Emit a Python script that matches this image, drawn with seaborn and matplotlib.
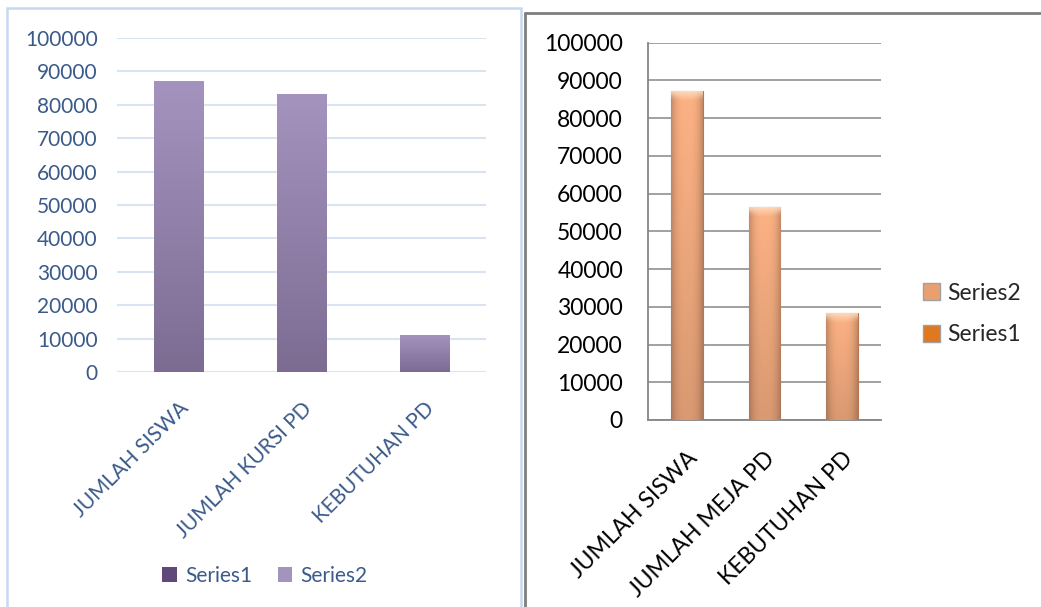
import numpy as np
import pandas as pd
import matplotlib
matplotlib.use("Agg")
import matplotlib.pyplot as plt
import seaborn as sns
from matplotlib.patches import Patch, Rectangle
from matplotlib.lines import Line2D
from matplotlib.colors import LinearSegmentedColormap

# data
left_categories = ["JUMLAH SISWA", "JUMLAH KURSI PD", "KEBUTUHAN PD"]
left_values = [87100, 83200, 11100]
right_categories = ["JUMLAH SISWA", "JUMLAH MEJA PD", "KEBUTUHAN PD"]
right_values = [87200, 56500, 28400]
y_ticks = [0, 10000, 20000, 30000, 40000, 50000, 60000, 70000, 80000, 90000, 100000]
legend_labels = ["Series1", "Series2"]

left_df = pd.DataFrame({"kategori": left_categories, "nilai": left_values})
right_df = pd.DataFrame({"kategori": right_categories, "nilai": right_values})

sns.set_style("white")
plt.rcParams["font.family"] = ["Lato", "DejaVu Sans"]

W, H = 1041, 607
fig = plt.figure(figsize=(W / 100, H / 100), dpi=100)

def fig_rect(x0, y0, x1, y1):
    return [x0 / W, 1 - y1 / H, (x1 - x0) / W, (y1 - y0) / H]

# panel frames
fig.patches.append(Rectangle((7 / W, -0.01), (521 - 7) / W, 1 - 8 / H + 0.01,
                             transform=fig.transFigure, fill=False,
                             edgecolor="#c6d9f1", lw=1.8))
fig.lines.append(Line2D([525 / W, 525 / W], [0, 1 - 13 / H], transform=fig.transFigure,
                        color="#7f7f7f", lw=2))
fig.lines.append(Line2D([525 / W, 1], [1 - 13 / H, 1 - 13 / H], transform=fig.transFigure,
                        color="#7f7f7f", lw=2))

blue_txt = "#3a5a8a"

# ---- left chart ----
ax1 = fig.add_axes(fig_rect(117, 38, 486, 372))
sns.barplot(data=left_df, x="kategori", y="nilai", color="#9c8cb6", width=0.4,
            ax=ax1, zorder=3)
ax1.set_ylim(0, 100000)
ax1.set_xlim(-0.5, 2.5)
ax1.set_yticks(y_ticks)
ax1.set_yticklabels([str(v) for v in y_ticks])
ax1.grid(axis="y", color="#d9e4f2", lw=1.5, zorder=0)
ax1.set_axisbelow(True)
for s in ax1.spines.values():
    s.set_visible(False)
ax1.tick_params(axis="both", length=0, colors=blue_txt, labelsize=15)
ax1.tick_params(axis="y", pad=14)
ax1.tick_params(axis="x", pad=19)
for lab in ax1.get_xticklabels():
    lab.set_rotation(45)
    lab.set_ha("right")
    lab.set_va("top")
    lab.set_rotation_mode("anchor")
ax1.set_xlabel("")
ax1.set_ylabel("")

purple = LinearSegmentedColormap.from_list("pur", ["#7d6c92", "#a493be"])
for p in list(ax1.patches):
    x0, y0, w, h = p.get_x(), p.get_y(), p.get_width(), p.get_height()
    grad = np.linspace(1, 0, 100).reshape(-1, 1)
    im = ax1.imshow(grad, extent=[x0, x0 + w, y0, y0 + h], aspect="auto",
                    cmap=purple, vmin=0, vmax=1, zorder=4)
    im.set_clip_path(p)
ax1.set_ylim(0, 100000)
ax1.set_xlim(-0.5, 2.5)

fig.legend(handles=[Patch(facecolor="#5f497a", edgecolor="none"),
                    Patch(facecolor="#a294bc", edgecolor="none")],
           labels=legend_labels, loc="center", bbox_to_anchor=(265 / W, 1 - 576 / H),
           ncol=2, frameon=False, fontsize=15, handlelength=0.7, handleheight=0.7,
           handletextpad=0.4, columnspacing=1.2, labelcolor=blue_txt)

# ---- right chart ----
ax2 = fig.add_axes(fig_rect(648, 42.7, 881, 420))
sns.barplot(data=right_df, x="kategori", y="nilai", color="#f4a673", width=0.41,
            ax=ax2, zorder=3)
ax2.set_ylim(0, 100000)
ax2.set_xlim(-0.5, 2.5)
ax2.set_yticks(y_ticks)
ax2.set_yticklabels([str(v) for v in y_ticks])
ax2.grid(axis="y", color="#868686", lw=1.1, zorder=0)
ax2.set_axisbelow(True)
for side in ["top", "right"]:
    ax2.spines[side].set_visible(False)
for side in ["left", "bottom"]:
    ax2.spines[side].set_color("#868686")
    ax2.spines[side].set_linewidth(1.3)
ax2.tick_params(axis="y", length=10, width=1.1, color="#868686", labelsize=16.5,
                labelcolor="black", pad=8)
ax2.set_xticks([-0.5, 0.5, 1.5, 2.5], minor=True)
ax2.tick_params(axis="x", which="minor", length=8, width=1.1, color="#868686")
ax2.tick_params(axis="x", which="major", length=0, labelsize=16.5, labelcolor="black", pad=20)
for lab in ax2.get_xticklabels():
    lab.set_rotation(45)
    lab.set_ha("right")
    lab.set_va("top")
    lab.set_rotation_mode("anchor")
ax2.set_xlabel("")
ax2.set_ylabel("")

# cylinder-like shading for the orange bars, with a light cap on top
for p in list(ax2.patches):
    x0, y0, w, h = p.get_x(), p.get_y(), p.get_width(), p.get_height()
    ny = max(int(h / 100000 * 377), 2)
    nx = 40
    xs = np.linspace(-1, 1, nx)
    across = 1 - 0.22 * np.abs(xs) ** 3
    down = np.linspace(1.0, 0.86, ny).reshape(-1, 1)
    base = np.array([253, 178, 132]) / 255.0
    img = base[None, None, :] * (across[None, :, None] * down[:, :, None])
    cap = 10
    top = np.array([255, 228, 200]) / 255.0
    for r in range(min(cap, ny)):
        k = 0.85 * (1 - r / cap)
        # chevron: brighter toward the middle as the cap narrows
        wgt = k * np.clip(1.3 - np.abs(xs) * (r / cap), 0, 1)
        img[r] = img[r] * (1 - wgt[:, None]) + top[None, :] * wgt[:, None]
    img = np.clip(img, 0, 1)
    im = ax2.imshow(img, extent=[x0, x0 + w, y0, y0 + h], aspect="auto",
                    interpolation="bilinear", zorder=4)
    im.set_clip_path(p)
    p.set_edgecolor("#b8764e")
    p.set_linewidth(0.8)
ax2.set_ylim(0, 100000)
ax2.set_xlim(-0.5, 2.5)

fig.legend(handles=[Patch(facecolor="#e9a070", edgecolor="#a0a0a0"),
                    Patch(facecolor="#e0781f", edgecolor="#a0a0a0")],
           labels=["Series2", "Series1"], loc="center",
           bbox_to_anchor=(972 / W, 1 - 314 / H), frameon=False, fontsize=16.5,
           handlelength=0.75, handleheight=0.75, handletextpad=0.3, labelspacing=0.9)

fig.savefig("out.png", dpi=100)
